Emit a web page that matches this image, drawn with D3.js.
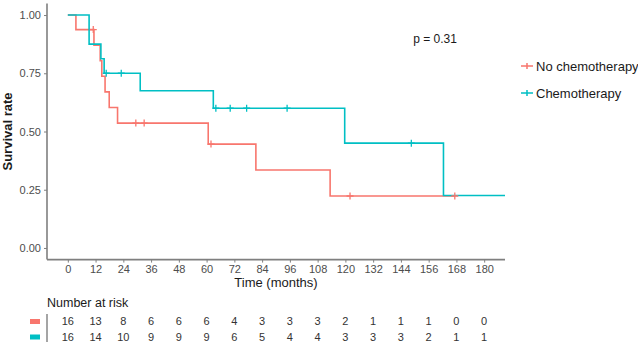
<!DOCTYPE html>
<html>
<head>
<meta charset="utf-8">
<script src="https://cdn.jsdelivr.net/npm/d3@7"></script>
<style>
  body { margin: 0; background: #fff; }
  svg { font-family: "Liberation Sans", Arial, sans-serif; }
</style>
</head>
<body>
<div id="chart"></div>
<script>
// Kaplan-Meier steps
const noChemoTimes = [0, 3.5, 11.3, 14.0, 14.7, 16.1, 17.9, 21.5, 60.7, 81.3, 113.4, 167.3];
const noChemoSurv = [1, 0.9375, 0.871, 0.804, 0.737, 0.670, 0.603, 0.536, 0.446, 0.335, 0.223, 0.223];
const noChemoCensorTimes = [11.0, 29.4, 33.0, 61.9, 122.0, 167.3];
const noChemoCensorSurv = [0.9375, 0.536, 0.536, 0.446, 0.223, 0.223];

const chemoTimes = [0, 9.2, 14.3, 15.7, 31.3, 62.9, 119.7, 162.4, 195];
const chemoSurv = [1, 0.875, 0.8125, 0.75, 0.675, 0.6, 0.45, 0.225, 0.225];
const chemoCensorTimes = [16.6, 23.1, 64.0, 70.2, 77.3, 94.8, 148.5];
const chemoCensorSurv = [0.75, 0.75, 0.6, 0.6, 0.6, 0.6, 0.45];

const groupNames = ["No chemotherapy", "Chemotherapy"];
const groupColors = ["#F8766D", "#00BFC4"];

const xTicks = d3.range(0, 181, 12);
const yTicks = [0, 0.25, 0.5, 0.75, 1];

const riskNoChemo = [16, 13, 8, 6, 6, 6, 4, 3, 3, 3, 2, 1, 1, 1, 0, 0];
const riskChemo = [16, 14, 10, 9, 9, 9, 6, 5, 4, 4, 3, 3, 3, 2, 1, 1];

const pText = "p = 0.31";

const W = 638, H = 347;
const panel = { left: 47, right: 505, top: 3.4, bottom: 259.6 };

const svg = d3.select("#chart").append("svg")
    .attr("width", W)
    .attr("height", H);

svg.append("rect").attr("width", W).attr("height", H).attr("fill", "#fff");

const x = d3.scaleLinear().domain([-9, 189]).range([panel.left, panel.right]);
const y = d3.scaleLinear().domain([-0.05, 1.05]).range([panel.bottom, panel.top]);

svg.append("defs").append("clipPath").attr("id", "clip")
    .append("rect")
    .attr("x", panel.left).attr("y", panel.top)
    .attr("width", panel.right - panel.left)
    .attr("height", panel.bottom - panel.top);

// axes
const yAxis = svg.append("g")
    .attr("transform", `translate(${panel.left},0)`)
    .call(d3.axisLeft(y).tickValues(yTicks).tickFormat(d3.format(".2f")).tickSize(3).tickPadding(3));
const xAxis = svg.append("g")
    .attr("transform", `translate(0,${panel.bottom})`)
    .call(d3.axisBottom(x).tickValues(xTicks).tickSize(3).tickPadding(3));

[xAxis, yAxis].forEach(g => {
    g.select(".domain").attr("stroke", "#7f7f7f").attr("stroke-width", 1.6);
    g.selectAll(".tick line").attr("stroke", "#7f7f7f").attr("stroke-width", 1);
    g.selectAll(".tick text").attr("fill", "#4d4d4d").attr("font-size", 11);
});
// axis lines span the whole panel
yAxis.select(".domain").attr("d", `M0,${panel.top}V${panel.bottom}`);
xAxis.select(".domain").attr("d", `M${panel.left},0H${panel.right}`);

svg.append("text")
    .attr("transform", `translate(12,${(panel.top + panel.bottom) / 2}) rotate(-90)`)
    .attr("text-anchor", "middle")
    .attr("font-size", 13)
    .attr("font-weight", "bold")
    .attr("fill", "#1a1a1a")
    .text("Survival rate");

svg.append("text")
    .attr("x", (panel.left + panel.right) / 2)
    .attr("y", 287)
    .attr("text-anchor", "middle")
    .attr("font-size", 13)
    .attr("fill", "#1a1a1a")
    .text("Time (months)");

// curves
const step = d3.line()
    .curve(d3.curveStepAfter)
    .x(d => x(d[0]))
    .y(d => y(d[1]));

const curves = [
    { times: noChemoTimes, surv: noChemoSurv, ct: noChemoCensorTimes, cs: noChemoCensorSurv, color: groupColors[0] },
    { times: chemoTimes, surv: chemoSurv, ct: chemoCensorTimes, cs: chemoCensorSurv, color: groupColors[1] },
];

const plot = svg.append("g").attr("clip-path", "url(#clip)");

curves.forEach(c => {
    plot.append("path")
        .attr("d", step(d3.zip(c.times, c.surv)))
        .attr("fill", "none")
        .attr("stroke", c.color)
        .attr("stroke-width", 1.6);
});

// censor marks
curves.forEach(c => {
    d3.zip(c.ct, c.cs).forEach(d => {
        const cx = x(d[0]), cy = y(d[1]);
        plot.append("path")
            .attr("d", `M${cx - 3.5},${cy}H${cx + 3.5}M${cx},${cy - 3.5}V${cy + 3.5}`)
            .attr("stroke", c.color)
            .attr("stroke-width", 1.3);
    });
});

// p value
svg.append("text")
    .attr("x", 435)
    .attr("y", 43)
    .attr("text-anchor", "middle")
    .attr("font-size", 12)
    .attr("fill", "#1a1a1a")
    .text(pText);

// legend
groupNames.forEach((name, i) => {
    const ly = 66 + i * 27;
    const g = svg.append("g");
    g.append("path")
        .attr("d", `M521,${ly}H533M527,${ly - 3}V${ly + 3}`)
        .attr("stroke", groupColors[i])
        .attr("stroke-width", 1.5);
    g.append("text")
        .attr("x", 536)
        .attr("y", ly)
        .attr("dy", "0.35em")
        .attr("font-size", 13)
        .attr("fill", "#1a1a1a")
        .text(name);
});

// risk table
svg.append("text")
    .attr("x", 47)
    .attr("y", 303)
    .attr("dy", "0.35em")
    .attr("font-size", 12.5)
    .attr("fill", "#1a1a1a")
    .text("Number at risk");

svg.append("line")
    .attr("x1", 47).attr("x2", 47)
    .attr("y1", 314).attr("y2", 342)
    .attr("stroke", "#7f7f7f")
    .attr("stroke-width", 1.4);

const riskRows = [riskNoChemo, riskChemo];
riskRows.forEach((row, i) => {
    const ry = 321.5 + i * 15.5;
    svg.append("rect")
        .attr("x", 30).attr("y", ry - 2.5)
        .attr("width", 10).attr("height", 5)
        .attr("fill", groupColors[i]);
    svg.append("g").selectAll("text")
        .data(row)
        .join("text")
        .attr("x", (d, j) => x(xTicks[j]))
        .attr("y", ry)
        .attr("dy", "0.35em")
        .attr("text-anchor", "middle")
        .attr("font-size", 11)
        .attr("fill", "#333")
        .text(d => d);
});
</script>
</body>
</html>
